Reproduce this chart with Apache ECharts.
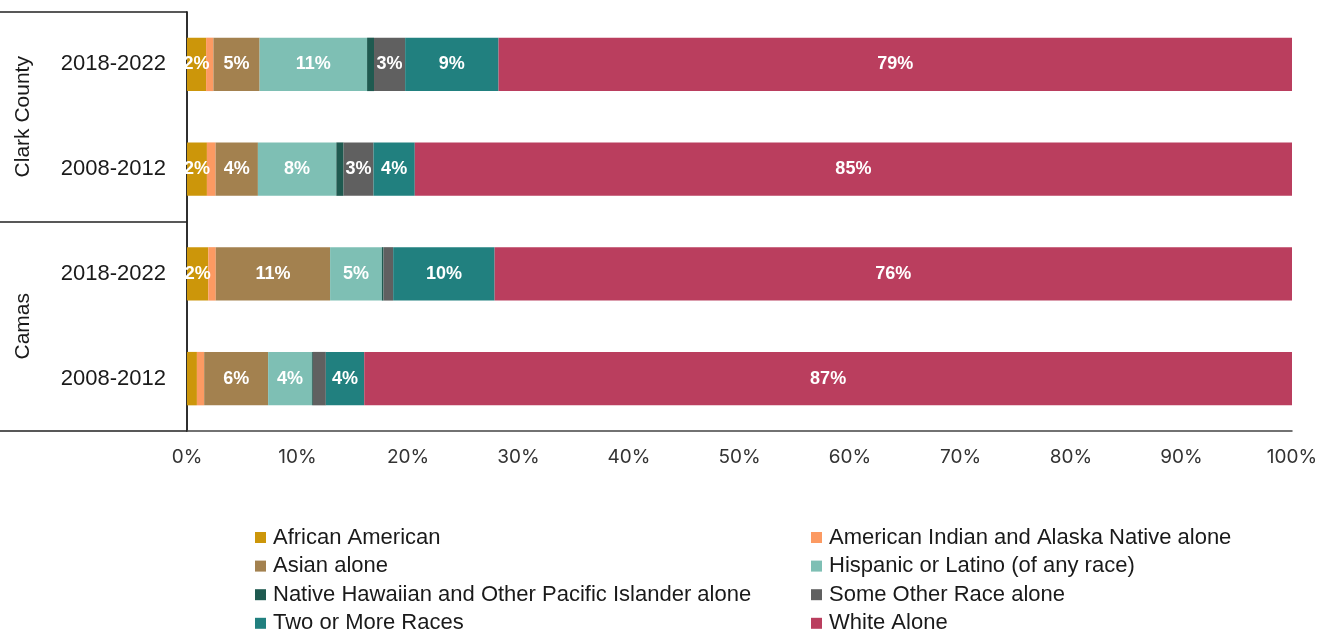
<!DOCTYPE html>
<html>
<head>
<meta charset="utf-8">
<script src="https://cdn.jsdelivr.net/npm/echarts@6/dist/echarts.min.js"></script>
<style>html,body{margin:0;padding:0;background:#fff;}#chart{width:1332px;height:631px;}</style>
</head>
<body>
<div id="chart"></div>
<script>
// Rows, top to bottom
const periods = ['2018-2022', '2008-2012', '2018-2022', '2008-2012'];
const groups = ['Clark County', 'Camas'];
const xTicks = [0, 10, 20, 30, 40, 50, 60, 70, 80, 90, 100];

// Raw shares (percent of population); Hispanic overlaps with race groups, so rows sum to >100
const africanAmerican = [1.9, 1.93, 2.03, 0.93];
const aian = [0.73, 0.84, 0.71, 0.68];
const asian = [4.6, 4.1, 10.9, 6.0];
const hispanic = [10.7, 7.6, 4.93, 4.1];
const nhpi = [0.69, 0.7, 0.16, 0.09];
const otherRace = [3.1, 2.9, 0.92, 1.22];
const twoOrMore = [9.3, 4.0, 9.67, 3.6];
const white = [79, 85, 76, 87];

const seriesNames = ['African American', 'American Indian and Alaska Native alone', 'Asian alone',
  'Hispanic or Latino (of any race)', 'Native Hawaiian and Other Pacific Islander alone',
  'Some Other Race alone', 'Two or More Races', 'White Alone'];
const seriesData = [africanAmerican, aian, asian, hispanic, nhpi, otherRace, twoOrMore, white];
const colors = ['#CC960A', '#FC9A62', '#A3814F', '#7EBFB4', '#1F5A50', '#606060', '#21807F', '#BA3E5E'];

const totals = periods.map((_, i) => seriesData.reduce((s, arr) => s + arr[i], 0));

const series = seriesNames.map((name, k) => ({
  name: name,
  type: 'bar',
  stack: 'total',
  yAxisIndex: 0,
  barCategoryGap: '49%',
  itemStyle: { color: colors[k] },
  label: {
    show: true,
    position: 'inside',
    color: '#fff',
    fontFamily: 'Liberation Sans, Arial, sans-serif',
    fontWeight: 'bold',
    fontSize: 18,
    formatter: p => p.data.raw >= 1.5 ? Math.round(p.data.raw) + '%' : ''
  },
  data: seriesData[k].map((v, i) => ({ value: v / totals[i] * 100, raw: v }))
}));

const legendText = { fontSize: 22, color: '#1a1a1a', padding: [0, 0, 0, 2], fontFamily: 'Liberation Sans, Arial, sans-serif' };
// two columns, four rows, filled row by row
const legends = seriesNames.map((name, k) => ({
  orient: 'horizontal',
  left: k % 2 === 0 ? 255 : 811,
  top: 526.5 + Math.floor(k / 2) * 28.6,
  padding: 0, itemWidth: 11, itemHeight: 11, itemGap: 0,
  icon: 'rect',
  data: [name],
  textStyle: legendText,
  selectedMode: false
}));

const chart = echarts.init(document.getElementById('chart'));
chart.setOption({
  animation: false,
  backgroundColor: '#fff',
  grid: { left: 187, right: 40, top: 12, bottom: 200, containLabel: false },
  xAxis: {
    type: 'value', min: 0, max: 100, interval: 10,
    axisLine: { show: true, lineStyle: { color: '#444', width: 1.5 } },
    axisTick: { show: false },
    splitLine: { show: false },
    axisLabel: {
      formatter: '{value}%', color: '#333', fontSize: 19, margin: 17,
      fontFamily: 'Inter, sans-serif'
    }
  },
  yAxis: [{
    type: 'category', data: periods, inverse: true,
    axisLine: { show: true, lineStyle: { color: '#222', width: 1.5 } },
    axisTick: { show: false },
    axisLabel: { color: '#1a1a1a', fontSize: 22, margin: 21, fontFamily: 'Liberation Sans, Arial, sans-serif' }
  }, {
    type: 'category', data: groups, inverse: true, position: 'left',
    axisLine: { show: true, lineStyle: { color: '#222', width: 1.5 } },
    axisTick: { show: true, length: 187, lineStyle: { color: '#222', width: 1.5 } },
    axisLabel: { rotate: 90, color: '#1a1a1a', fontSize: 21, margin: 153, fontFamily: 'Liberation Sans, Arial, sans-serif' }
  }],
  legend: legends,
  series: series
});
</script>
</body>
</html>
